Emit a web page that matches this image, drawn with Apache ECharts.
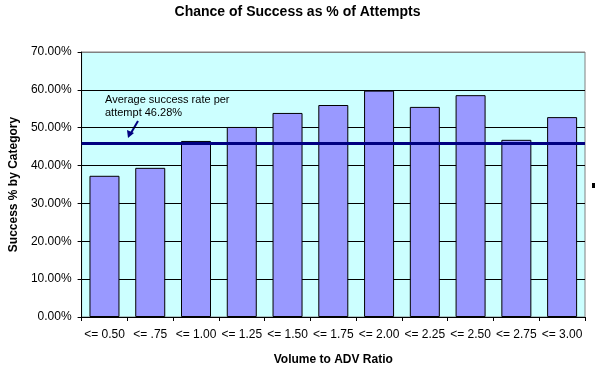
<!DOCTYPE html>
<html>
<head>
    <meta charset="utf-8">
    <title>Chance of Success</title>
    <script src="https://cdn.jsdelivr.net/npm/echarts@6/dist/echarts.min.js"></script>
</head>
<body style="margin:0;background:#fff;">
    <div id="main" style="width: 595px;height: 375px;"></div>
    <script type="text/javascript">
        // categories and values
        var categories = ['<= 0.50', '<= .75', '<= 1.00', '<= 1.25', '<= 1.50', '<= 1.75',
            '<= 2.00', '<= 2.25', '<= 2.50', '<= 2.75', '<= 3.00'];
        var successPct = [37.3, 39.4, 46.5, 50.2, 53.9, 56.0, 59.8, 55.5, 58.6, 46.8, 52.8];
        var averageLine = 45.8;
        var averageText = 'Average success rate per\nattempt 46.28%';

        var myChart = echarts.init(document.getElementById('main'));
        var font = 'Liberation Sans, Arial, sans-serif';

        var option = {
            backgroundColor: '#fff',
            animation: false,
            title: {
                text: 'Chance of Success as % of Attempts',
                left: 'center',
                top: 0,
                textStyle: { fontFamily: font, fontSize: 14, fontWeight: 'bold', color: '#000' }
            },
            grid: {
                left: 79, right: 10, top: 52, bottom: 58,
                show: true,
                backgroundColor: '#CCFFFF',
                borderColor: '#808080',
                borderWidth: 1
            },
            xAxis: {
                type: 'category',
                data: categories,
                name: 'Volume to ADV Ratio',
                nameLocation: 'middle',
                nameGap: 37,
                nameTextStyle: { fontFamily: font, fontSize: 12, fontWeight: 'bold', color: '#000' },
                axisLine: { lineStyle: { color: '#000', width: 1 } },
                axisTick: { show: true, length: 4, lineStyle: { color: '#000' } },
                axisLabel: { fontFamily: font, fontSize: 12, color: '#000', margin: 12, interval: 0 }
            },
            yAxis: {
                type: 'value',
                min: 0, max: 70, interval: 10,
                name: 'Success % by Category',
                nameLocation: 'middle',
                nameGap: 60,
                nameTextStyle: { fontFamily: font, fontSize: 12, fontWeight: 'bold', color: '#000' },
                axisLine: { show: true, lineStyle: { color: '#000', width: 1 } },
                axisTick: { show: true, length: 4, lineStyle: { color: '#000' } },
                axisLabel: {
                    fontFamily: font, fontSize: 12, color: '#000', margin: 10,
                    formatter: function (v) { return v.toFixed(2) + '%'; }
                },
                splitLine: {
                    lineStyle: {
                        color: ['#000', '#000', '#000', '#000', '#000', '#000', '#000', '#808080'],
                        width: 1
                    }
                }
            },
            series: [
                {
                    type: 'bar',
                    data: successPct,
                    barWidth: 30,
                    itemStyle: { color: '#9999FF', borderColor: '#000', borderWidth: 1 },
                    markLine: {
                        silent: true,
                        symbol: 'none',
                        label: { show: false },
                        lineStyle: { color: '#000080', width: 3, type: 'solid' },
                        data: [{ yAxis: averageLine }]
                    }
                }
            ],
            graphic: [
                {
                    type: 'text',
                    left: 105, top: 93,
                    style: { text: averageText, fontFamily: font, fontSize: 11, fill: '#000', lineHeight: 13 }
                },
                {
                    type: 'line',
                    shape: { x1: 138, y1: 121, x2: 131, y2: 133 },
                    style: { stroke: '#000080', lineWidth: 2 }
                },
                {
                    type: 'polygon',
                    shape: { points: [[128, 138], [127, 130], [134, 133]] },
                    style: { fill: '#000080' }
                },
                {
                    type: 'rect',
                    shape: { x: 592, y: 183, width: 3, height: 5 },
                    style: { fill: '#000' }
                }
            ]
        };

        myChart.setOption(option);
        window.onresize = myChart.resize;
    </script>
</body>
</html>
